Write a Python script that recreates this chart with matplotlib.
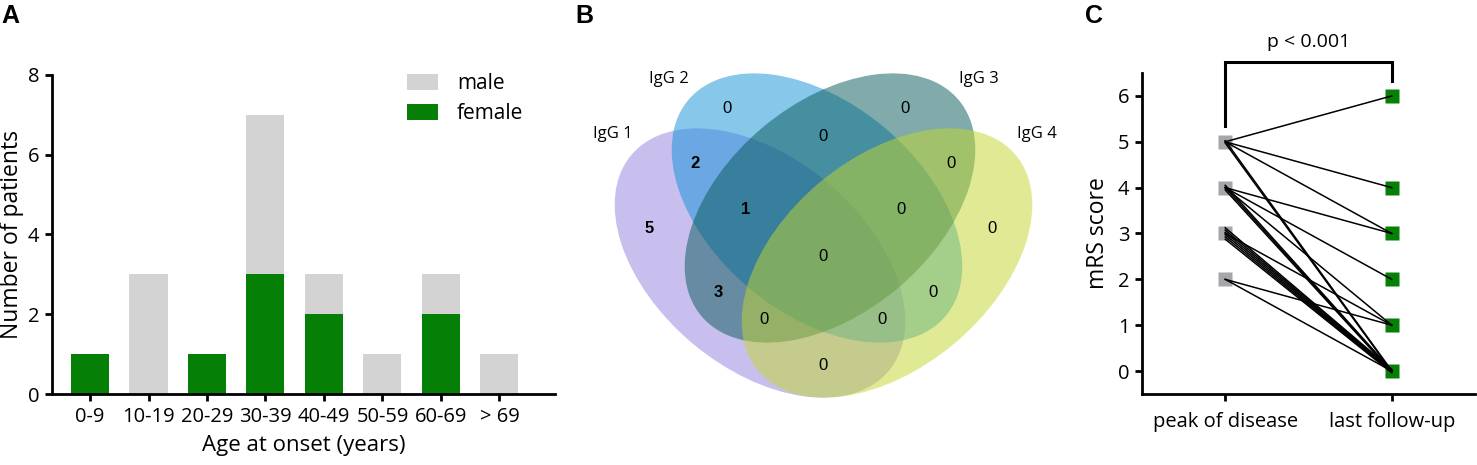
import matplotlib
matplotlib.use("Agg")
import matplotlib.pyplot as plt
from matplotlib.patches import Ellipse
import numpy as np

plt.rcParams['font.family'] = ['Open Sans', 'DejaVu Sans']

# ---- data ----
age_groups = ['0-9', '10-19', '20-29', '30-39', '40-49', '50-59', '60-69', '> 69']
female = [1, 0, 1, 3, 2, 0, 2, 0]
male = [0, 3, 0, 4, 1, 1, 1, 1]

venn_sets = ['IgG 1', 'IgG 2', 'IgG 3', 'IgG 4']
venn_regions = ['1', '2', '3', '4', '12', '13', '14', '23', '24', '34',
                '123', '124', '134', '234', '1234']
venn_counts = [5, 0, 0, 0, 2, 3, 0, 0, 0, 0, 1, 0, 0, 0, 0]

mrs_groups = ['peak of disease', 'last follow-up']
mrs_peak = [5, 5, 5, 5, 5, 4, 4, 4, 4, 4, 4, 3, 3, 3, 3, 3, 3, 3, 2, 2]
mrs_last = [6, 4, 3, 0, 0, 3, 2, 1, 0, 0, 0, 1, 0, 0, 0, 0, 0, 0, 1, 0]
p_text = 'p < 0.001'

# ---- layout helpers (pixels) ----
W, H = 1477, 465
fig = plt.figure(figsize=(W / 100, H / 100), dpi=100)


def px_axes(l, t, r, b):
    return fig.add_axes([l / W, 1 - b / H, (r - l) / W, (b - t) / H])


def style_axes(ax):
    for s in ['top', 'right']:
        ax.spines[s].set_visible(False)
    for s in ['left', 'bottom']:
        ax.spines[s].set_linewidth(2)
    ax.tick_params(axis='both', which='both', length=5, width=2,
                   labelsize=14.5, pad=4)


GREEN = '#067f06'
LGRAY = '#d3d3d3'

# ---- A: stacked bars ----
axA = px_axes(52, 75, 555, 394)
x = np.arange(len(age_groups))
bf = axA.bar(x, female, width=0.65, color=GREEN, label='female')
bm = axA.bar(x, male, width=0.65, bottom=female, color=LGRAY, label='male')
axA.set_xlim(-0.65, 7.95)
axA.set_ylim(0, 8)
axA.set_yticks([0, 2, 4, 6, 8])
axA.set_xticks(x)
axA.set_xticklabels(age_groups)
style_axes(axA)
axA.set_ylabel('Number of patients', fontsize=16.5, labelpad=3)
axA.set_xlabel('Age at onset (years)', fontsize=16, labelpad=6)
axA.legend([bm, bf], ['male', 'female'], loc='upper left',
           bbox_to_anchor=(407 / W, 1 - 73 / H), bbox_transform=fig.transFigure,
           frameon=False, fontsize=15, handlelength=1.5, handleheight=0.8,
           handletextpad=0.9, labelspacing=0.45, borderpad=0, borderaxespad=0)

# ---- B: four-set venn ----
axB = px_axes(560, 30, 1060, 465)
axB.set_xlim(560, 1060)
axB.set_ylim(465, 30)
axB.axis('off')
ell_colors = ['#9581e1', '#0f91d7', '#055959', '#c3d72d']
ell_centers = [(760, 263), (817, 208), (830, 208), (887, 263)]
ell_angles = [40, 40, -40, -40]
for c, (cx, cy), ang in zip(ell_colors, ell_centers, ell_angles):
    axB.add_patch(Ellipse((cx, cy), 336, 210, angle=ang, facecolor=c,
                          alpha=0.5, linewidth=0))

label_pos = [(613, 134), (669, 79), (979, 79), (1037, 134)]
for name, (lx, ly) in zip(venn_sets, label_pos):
    axB.text(lx, ly, name, ha='center', va='center', fontsize=12)

region_pos = {
    '1': (649, 228), '2': (727, 108), '3': (905, 108), '4': (992, 228),
    '12': (695, 163), '13': (718, 292), '14': (823, 365), '23': (823, 136),
    '24': (933, 292), '34': (951, 163), '123': (746, 209), '124': (882, 319),
    '134': (764, 319), '234': (901, 209), '1234': (823, 256),
}
for reg, n in zip(venn_regions, venn_counts):
    rx, ry = region_pos[reg]
    axB.text(rx, ry, str(n), ha='center', va='center', fontsize=12,
             family=['Liberation Sans', 'DejaVu Sans'],
             fontweight='bold' if n > 0 else 'normal')

# ---- C: paired mRS ----
axC = px_axes(1142, 73, 1475, 394)
axC.set_xlim(-0.5, 1.5)
axC.set_ylim(-0.5, 6.5)
pairs = list(zip(mrs_peak, mrs_last))
seen = {}
for a, b in pairs:
    seen[(a, b)] = seen.get((a, b), 0) + 1
for a in sorted(set(mrs_peak)):
    axC.plot(0, a, 's', ms=9.5, color='#a5a5aa', mec='none', zorder=1)
for b in sorted(set(mrs_last)):
    axC.plot(1, b, 's', ms=9.5, color=GREEN, mec='none', zorder=1)
count = {}
for a, b in pairs:
    n = seen[(a, b)]
    k = count.get((a, b), 0)
    count[(a, b)] = k + 1
    off = (k - (n - 1) / 2) * 0.05
    axC.plot([0, 1], [a + off, b + off * 0.3], color='black', lw=1.1, zorder=2)
axC.set_xticks([0, 1])
axC.set_xticklabels(mrs_groups)
axC.set_yticks(range(0, 7))
style_axes(axC)
axC.tick_params(axis='x', pad=8)
axC.set_ylabel('mRS score', fontsize=16.5, labelpad=6)
axC.plot([0, 0, 1, 1], [5.34, 6.74, 6.74, 6.33], color='black', lw=2.2,
         clip_on=False, solid_joinstyle='miter')
axC.text(0.5, 7.18, p_text, ha='center', va='center', fontsize=14)

# ---- panel letters ----
for letter, lx in [('A', 1), ('B', 575), ('C', 1085)]:
    fig.text(lx / W, 1 - 4 / H, letter, ha='left', va='top', fontsize=18,
             fontweight='bold', family=['Liberation Sans', 'DejaVu Sans'])

fig.savefig('out.png', dpi=100)
